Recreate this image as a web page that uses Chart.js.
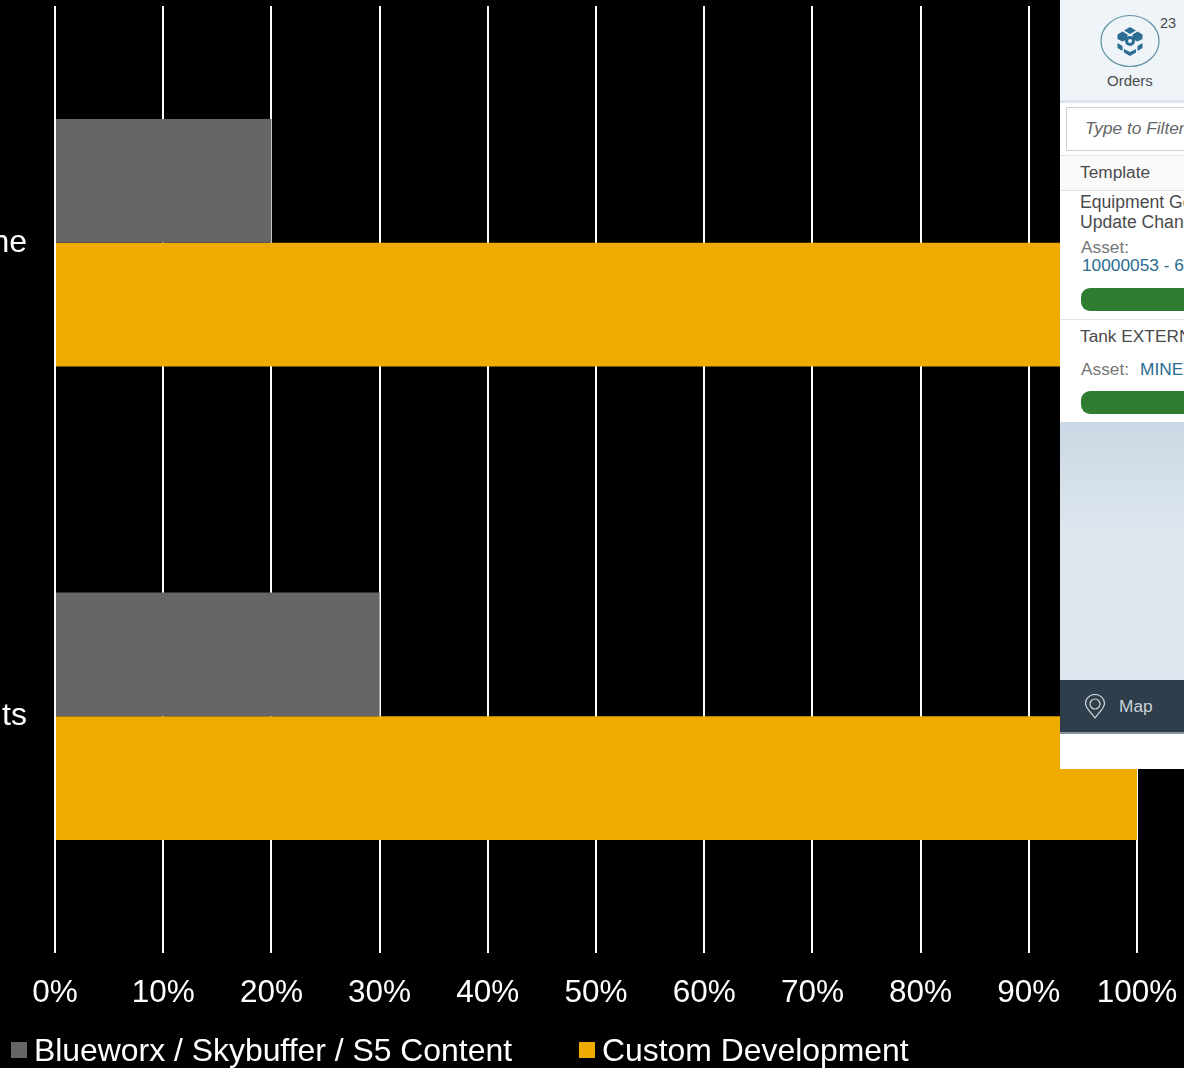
<!DOCTYPE html>
<html>
<head>
<meta charset="utf-8">
<script src="https://cdn.jsdelivr.net/npm/chart.js@4/dist/chart.umd.min.js"></script>
<style>
html, body { margin: 0; padding: 0; background: #000; overflow: hidden; }
body { width: 1184px; height: 1068px; position: relative; font-family: "Liberation Sans", Arial, sans-serif; }
canvas { position: absolute; left: 0; top: 0; }

#legend { position: absolute; left: 11px; top: 1030px; height: 38px; color: #fff; font-size: 31.9px; line-height: 38px; white-space: nowrap; }
#legend .item { position: absolute; top: 0; }
#legend .swatch { position: absolute; left: 0; top: 12px; width: 16px; height: 16px; }
#legend .name { position: absolute; left: 23px; top: 1px; }

#inset { position: absolute; left: 1060px; top: 0; width: 124px; height: 769px; background: #fff; overflow: hidden; color: #4a4a4a; font-size: 17.3px; }
#inset div, #inset span, #inset svg { position: absolute; white-space: nowrap; }
#inset .line { left: 0; width: 124px; height: 1px; background: #e2e2e2; }
#inset .pill { left: 21px; width: 160px; height: 23px; border-radius: 9px; background: #2f7d32; }
</style>
</head>
<body>
<canvas id="chart" width="1184" height="1068"></canvas>
<div id="legend"></div>

<div id="inset">
    <div style="left:0;top:0;width:124px;height:100px;background:#eff4f9"></div>
    <div style="left:0;top:100px;width:124px;height:3px;background:#dce5ee"></div>
    <svg style="left:38px;top:14px" width="66" height="56" viewBox="0 0 66 56">
        <ellipse cx="32" cy="27" rx="29" ry="25.5" fill="none" stroke="#5f8ea3" stroke-width="1.2"/>
        <path d="M32 13l6 3.500-6 3.500-6-3.500z M24.500 17.500l5 3v4.500l-5 2.500-5-2.500v-4.500z M39.500 17.500l5 3v4.500l-5 2.500-5-2.500v-4.500z M19.500 29l5 3v5l-5-3z M44.500 29l-5 3v5l5-3z M26 35l6 3 6-3v3.500l-6 3.500-6-3.500z" fill="#2b6c93"/>
        <circle cx="32" cy="27" r="5" fill="#2b6c93"/>
        <circle cx="32" cy="27" r="2" fill="#eff4f9"/>
    </svg>
    <span style="left:100px;top:15px;font-size:14.5px">23</span>
    <span style="left:47px;top:72px;font-size:15px">Orders</span>
    <div style="left:6px;top:107px;width:130px;height:42px;border:1px solid #cfcfcf"></div>
    <span style="left:25px;top:118px;font-style:italic;color:#666">Type to Filter</span>
    <div class="line" style="top:155px"></div>
    <div style="left:0;top:156px;width:124px;height:34px;background:#fafafa"></div>
    <span style="left:20px;top:162px">Template</span>
    <div class="line" style="top:190px"></div>
    <span style="left:20px;top:192px;font-size:17.6px">Equipment Ge</span>
    <span style="left:20px;top:212px;font-size:17.6px">Update Chan</span>
    <span style="left:21px;top:237px;color:#777">Asset:</span>
    <span style="left:22px;top:255px;color:#2a6d8f">10000053 - 6</span>
    <div class="pill" style="top:288px"></div>
    <div class="line" style="top:319px"></div>
    <span style="left:20px;top:326px">Tank EXTERN</span>
    <span style="left:21px;top:359px;color:#777">Asset:</span>
    <span style="left:80px;top:359px;color:#2a6d8f">MINE</span>
    <div class="pill" style="top:391px"></div>
    <div style="left:0;top:422px;width:124px;height:258px;background:linear-gradient(#c9d8e4,#dfe7ef 45%,#dde6ee)"></div>
    <div style="left:0;top:680px;width:124px;height:52px;background:#2f3e4b"></div>
    <div style="left:0;top:732px;width:124px;height:2px;background:#8a949c"></div>
    <svg style="left:24px;top:694px" width="24" height="26" viewBox="0 0 24 26">
        <path d="M11 24C6 17 1.500 14 1.500 9.500a9.500 9 0 0 1 19 0C20.500 14 16 17 11 24z" fill="none" stroke="#d3dae0" stroke-width="1.2"/>
        <circle cx="11" cy="10" r="5" fill="none" stroke="#d3dae0" stroke-width="1.2"/>
    </svg>
    <span style="left:59px;top:696px;color:#c9d1d8">Map</span>
</div>

<script>
const categories = ['ne', 'ts'];
const seriesNames = ['Blueworx / Skybuffer / S5 Content', 'Custom Development'];
const contentValues = [20, 30];
const customValues = [100, 100];
const seriesColors = ['#666666', '#F0AB00'];
const legendLefts = [0, 568];

const chart = new Chart(document.getElementById('chart').getContext('2d'), {
    type: 'bar',
    data: {
        labels: categories,
        datasets: [
            { label: seriesNames[0], data: contentValues, backgroundColor: seriesColors[0], categoryPercentage: 0.523, barPercentage: 1 },
            { label: seriesNames[1], data: customValues, backgroundColor: seriesColors[1], categoryPercentage: 0.523, barPercentage: 1 }
        ]
    },
    options: {
        indexAxis: 'y',
        responsive: false,
        animation: false,
        layout: { padding: { top: 6, right: 47, left: 0, bottom: 0 } },
        plugins: { legend: { display: false }, tooltip: { enabled: false } },
        scales: {
            x: {
                min: 0,
                max: 100,
                // 刻度文字不要再把繪圖區往內推
                afterFit: scale => {
                    scale.height = 115;
                    scale.paddingLeft = 0;
                    scale.paddingRight = 0;
                    scale.paddingTop = 0;
                    scale.paddingBottom = 0;
                },
                grid: { color: '#ffffff', lineWidth: 2, drawTicks: false },
                border: { display: false },
                ticks: {
                    stepSize: 10,
                    autoSkip: false,
                    maxRotation: 0,
                    padding: 21,
                    color: '#ffffff',
                    font: { family: '"Liberation Sans", Arial, sans-serif', size: 31.5 },
                    callback: v => v + '%'
                }
            },
            y: {
                afterFit: scale => {
                    scale.width = 55;
                    scale.paddingLeft = 0;
                    scale.paddingRight = 0;
                    scale.paddingTop = 0;
                    scale.paddingBottom = 0;
                },
                grid: { display: false },
                border: { display: false },
                ticks: {
                    padding: 20,
                    color: '#ffffff',
                    font: { family: '"Liberation Sans", Arial, sans-serif', size: 32 }
                }
            }
        }
    }
});

// 圖例用 HTML 畫,位置才對得上
const legend = document.getElementById('legend');
chart.data.datasets.forEach((ds, i) => {
    const item = document.createElement('div');
    item.className = 'item';
    item.style.left = legendLefts[i] + 'px';
    const swatch = document.createElement('div');
    swatch.className = 'swatch';
    swatch.style.background = ds.backgroundColor;
    const name = document.createElement('div');
    name.className = 'name';
    name.textContent = ds.label;
    item.appendChild(swatch);
    item.appendChild(name);
    legend.appendChild(item);
});
</script>
</body>
</html>
